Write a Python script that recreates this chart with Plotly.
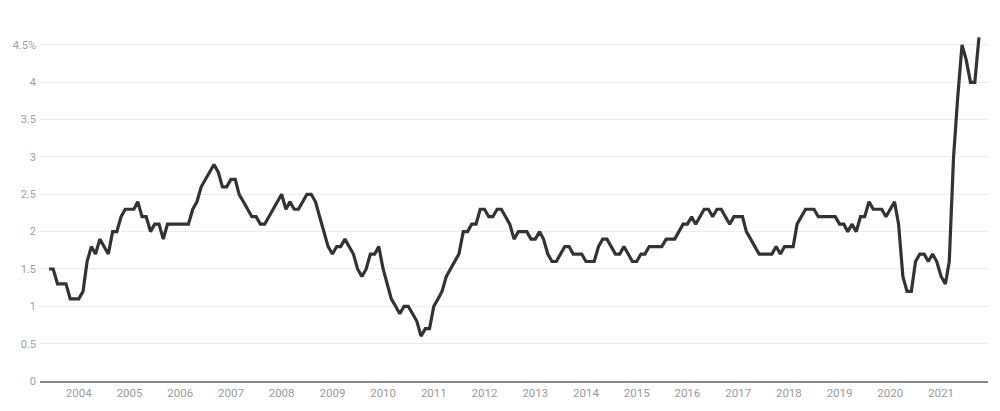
import pandas as pd
import plotly.graph_objects as go

# Monthly values, June 2003 - October 2021 (percent, year over year)
start_month = "2003-06-01"
values_2003 = [1.5, 1.5, 1.3, 1.3, 1.3, 1.1, 1.1]
values_2004 = [1.1, 1.2, 1.6, 1.8, 1.7, 1.9, 1.8, 1.7, 2.0, 2.0, 2.2, 2.3]
values_2005 = [2.3, 2.3, 2.4, 2.2, 2.2, 2.0, 2.1, 2.1, 1.9, 2.1, 2.1, 2.1]
values_2006 = [2.1, 2.1, 2.1, 2.3, 2.4, 2.6, 2.7, 2.8, 2.9, 2.8, 2.6, 2.6]
values_2007 = [2.7, 2.7, 2.5, 2.4, 2.3, 2.2, 2.2, 2.1, 2.1, 2.2, 2.3, 2.4]
values_2008 = [2.5, 2.3, 2.4, 2.3, 2.3, 2.4, 2.5, 2.5, 2.4, 2.2, 2.0, 1.8]
values_2009 = [1.7, 1.8, 1.8, 1.9, 1.8, 1.7, 1.5, 1.4, 1.5, 1.7, 1.7, 1.8]
values_2010 = [1.5, 1.3, 1.1, 1.0, 0.9, 1.0, 1.0, 0.9, 0.8, 0.6, 0.7, 0.7]
values_2011 = [1.0, 1.1, 1.2, 1.4, 1.5, 1.6, 1.7, 2.0, 2.0, 2.1, 2.1, 2.3]
values_2012 = [2.3, 2.2, 2.2, 2.3, 2.3, 2.2, 2.1, 1.9, 2.0, 2.0, 2.0, 1.9]
values_2013 = [1.9, 2.0, 1.9, 1.7, 1.6, 1.6, 1.7, 1.8, 1.8, 1.7, 1.7, 1.7]
values_2014 = [1.6, 1.6, 1.6, 1.8, 1.9, 1.9, 1.8, 1.7, 1.7, 1.8, 1.7, 1.6]
values_2015 = [1.6, 1.7, 1.7, 1.8, 1.8, 1.8, 1.8, 1.9, 1.9, 1.9, 2.0, 2.1]
values_2016 = [2.1, 2.2, 2.1, 2.2, 2.3, 2.3, 2.2, 2.3, 2.3, 2.2, 2.1, 2.2]
values_2017 = [2.2, 2.2, 2.0, 1.9, 1.8, 1.7, 1.7, 1.7, 1.7, 1.8, 1.7, 1.8]
values_2018 = [1.8, 1.8, 2.1, 2.2, 2.3, 2.3, 2.3, 2.2, 2.2, 2.2, 2.2, 2.2]
values_2019 = [2.1, 2.1, 2.0, 2.1, 2.0, 2.2, 2.2, 2.4, 2.3, 2.3, 2.3, 2.2]
values_2020 = [2.3, 2.4, 2.1, 1.4, 1.2, 1.2, 1.6, 1.7, 1.7, 1.6, 1.7, 1.6]
values_2021 = [1.4, 1.3, 1.6, 3.0, 3.8, 4.5, 4.3, 4.0, 4.0, 4.6]

year_labels = [str(y) for y in range(2004, 2022)]
y_tick_values = [0, 0.5, 1, 1.5, 2, 2.5, 3, 3.5, 4, 4.5]
y_tick_labels = ["0", "0.5", "1", "1.5", "2", "2.5", "3", "3.5", "4", "4.5%"]

values = (values_2003 + values_2004 + values_2005 + values_2006 + values_2007
          + values_2008 + values_2009 + values_2010 + values_2011 + values_2012
          + values_2013 + values_2014 + values_2015 + values_2016 + values_2017
          + values_2018 + values_2019 + values_2020 + values_2021)
dates = pd.date_range(start_month, periods=len(values), freq="MS")

fig = go.Figure()
fig.add_trace(go.Scatter(
    x=dates, y=values, mode="lines",
    line=dict(color="#333333", width=3.2, shape="linear"),
    hoverinfo="x+y",
))

font_family = "Roboto, 'Open Sans', Arial, sans-serif"
fig.update_layout(
    width=992, height=403,
    margin=dict(l=32, r=12, t=22, b=30, autoexpand=False),
    paper_bgcolor="white", plot_bgcolor="white",
    showlegend=False,
    font=dict(family=font_family, size=11, color="#9a9a9a"),
    xaxis=dict(
        range=["2003-03-28", "2021-12-05"],
        tickvals=[f"{y}-01-01" for y in year_labels],
        ticktext=year_labels,
        showgrid=False, zeroline=False, ticks="",
        showline=True, linecolor="#8a8a8a", linewidth=2,
        tickfont=dict(size=11.5, color="#9a9a9a"),
        automargin=False,
    ),
    yaxis=dict(
        range=[0, 4.7],
        tickvals=y_tick_values, ticktext=y_tick_labels,
        showgrid=True, gridcolor="#ececec", gridwidth=1,
        zeroline=False, showline=False, ticks="",
        tickfont=dict(size=11, color="#a0a0a0"),
        automargin=False, ticklabelstandoff=3,
    ),
)

fig.write_html("out.html")
